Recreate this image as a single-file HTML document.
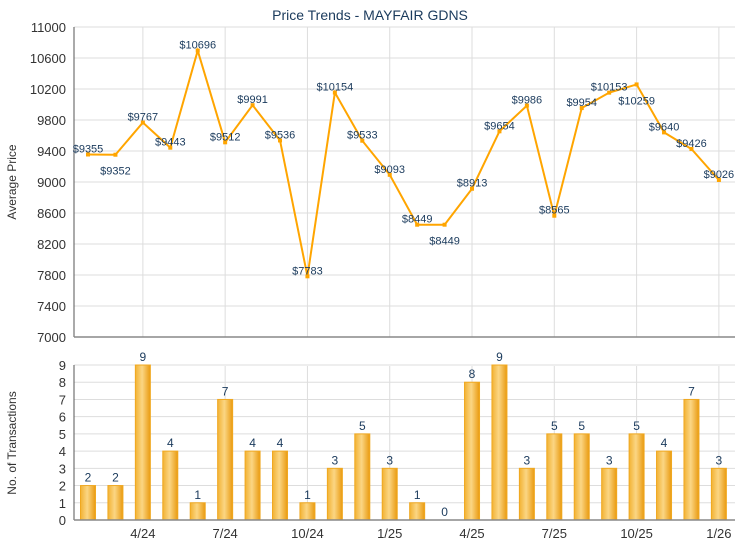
<!DOCTYPE html>
<html><head><meta charset="utf-8"><style>
body{margin:0;background:#fff}
svg{display:block;font-family:"Liberation Sans",Arial,sans-serif}
</style></head><body>
<svg width="740" height="550" viewBox="0 0 740 550" xmlns="http://www.w3.org/2000/svg">
<defs>
<linearGradient id="bg" x1="0" x2="1" y1="0" y2="0">
<stop offset="0" stop-color="#f2b233"/><stop offset="0.45" stop-color="#fbd684"/><stop offset="1" stop-color="#e99a10"/>
</linearGradient>
</defs>
<text x="370" y="20" text-anchor="middle" font-size="14" fill="#1a3a5c">Price Trends - MAYFAIR GDNS</text>
<g id="gtop"></g>
<g id="gbot"></g>
<text transform="translate(16,182) rotate(-90)" text-anchor="middle" font-size="12" fill="#333">Average Price</text>
<text transform="translate(16,443) rotate(-90)" text-anchor="middle" font-size="12" fill="#333">No. of Transactions</text>
</svg>
<script>
(function(){
const NS="http://www.w3.org/2000/svg";
function el(p,t,a,txt){const e=document.createElementNS(NS,t);for(const k in a)e.setAttribute(k,a[k]);if(txt!==undefined)e.textContent=txt;p.appendChild(e);return e;}
const gTop=document.getElementById('gtop'),gBot=document.getElementById('gbot');
const L=74,R=735,T=27,B=337;
const prices=[9355,9352,9767,9443,10696,9512,9991,9536,7783,10154,9533,9093,8449,8449,8913,9654,9986,8565,9954,10153,10259,9640,9426,9026];
const counts=[2,2,9,4,1,7,4,4,1,3,5,3,1,0,8,9,3,5,5,3,5,4,7,3];
const X=i=>88+i*27.43;
const Y=v=>B-(v-7000)/4000*310;
for(let v=7000;v<=11000;v+=400){const y=Y(v);
 if(v>7000)el(gTop,'line',{x1:L,x2:R,y1:y,y2:y,stroke:'#ddd','stroke-width':1});
 el(gTop,'text',{x:L-8,y:y+5,'text-anchor':'end','font-size':13,fill:'#333'},v);}
const mons=['4/24','7/24','10/24','1/25','4/25','7/25','10/25','1/26'];
mons.forEach((m,k)=>{const x=X(2+3*k);
 el(gTop,'line',{x1:x,x2:x,y1:T,y2:B,stroke:'#ddd'});
 el(gBot,'line',{x1:x,x2:x,y1:366,y2:520,stroke:'#ddd'});
 el(gBot,'text',{x:x,y:538,'text-anchor':'middle','font-size':13,fill:'#333'},m);});
el(gTop,'line',{x1:L,x2:L,y1:T,y2:B,stroke:'#555'});
el(gTop,'line',{x1:L,x2:R,y1:B,y2:B,stroke:'#888','stroke-width':1.5});
el(gTop,'polyline',{points:prices.map((p,i)=>X(i)+','+Y(p)).join(' '),fill:'none',stroke:'#ffa500','stroke-width':2});
const below={1:1,13:1,20:1};
prices.forEach((p,i)=>{el(gTop,'rect',{x:X(i)-2,y:Y(p)-2,width:4,height:4,fill:'#ffa500'});
 const yy=below[i]?Y(p)+20:Y(p)-2;
 el(gTop,'text',{x:X(i),y:yy,'text-anchor':'middle','font-size':11,fill:'#1a3a5c'},'$'+p);});
const BB=520,BT=365,u=(BB-BT)/9;
for(let v=0;v<=9;v++){const y=BB-v*u;
 if(v>0)el(gBot,'line',{x1:L,x2:R,y1:y,y2:y,stroke:'#ddd'});
 el(gBot,'text',{x:L-8,y:y+5,'text-anchor':'end','font-size':13,fill:'#333'},v);}
counts.forEach((c,i)=>{const x=X(i);
 if(c>0)el(gBot,'rect',{x:x-7.5,y:BB-c*u,width:15,height:c*u,fill:'url(#bg)',stroke:'#f0a820','stroke-width':1});
 el(gBot,'text',{x:x,y:BB-c*u-4,'text-anchor':'middle','font-size':12,fill:'#1a3a5c'},c);});
el(gBot,'line',{x1:L,x2:L,y1:BT,y2:BB,stroke:'#555'});
el(gBot,'line',{x1:L,x2:R,y1:BB,y2:BB,stroke:'#888','stroke-width':1.5});
})();
</script>
</body></html>
